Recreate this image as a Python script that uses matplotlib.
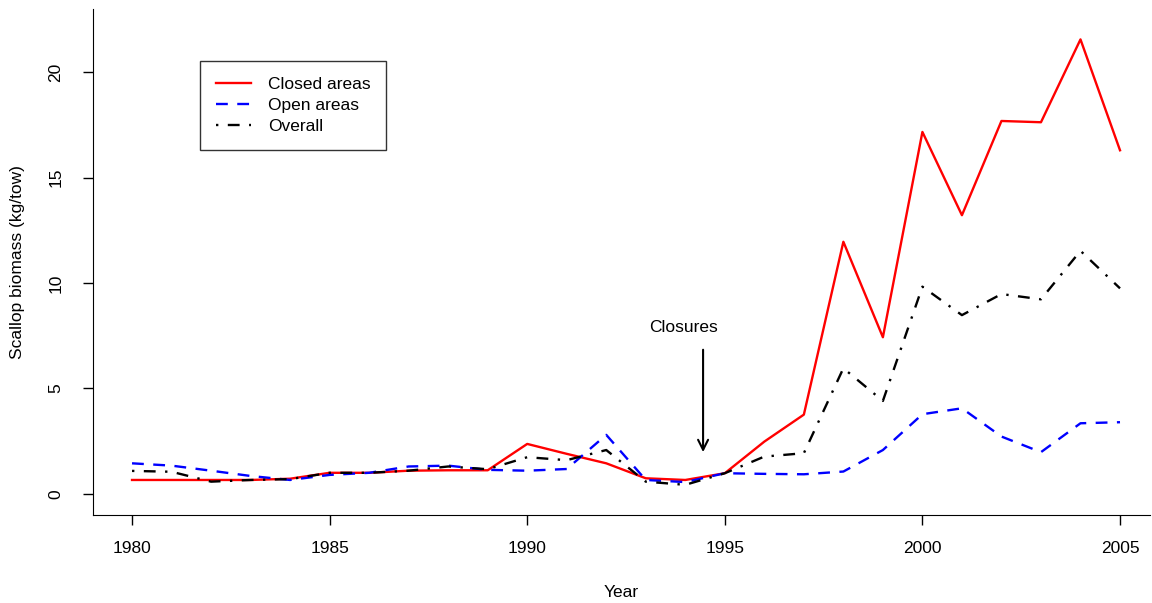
import matplotlib
matplotlib.use("Agg")
import matplotlib.pyplot as plt

years = list(range(1980, 2006))
closed_areas = [0.66, 0.66, 0.66, 0.66, 0.72, 1.0, 1.0, 1.1, 1.12, 1.12,
                2.37, 1.9, 1.45, 0.74, 0.66, 0.98, 2.48, 3.76, 11.96, 7.43,
                17.17, 13.22, 17.69, 17.63, 21.56, 16.3]
open_areas = [1.45, 1.34, 1.1, 0.85, 0.66, 0.9, 1.0, 1.3, 1.34, 1.14,
              1.1, 1.18, 2.8, 0.66, 0.56, 0.98, 0.95, 0.93, 1.06, 2.08,
              3.78, 4.06, 2.72, 1.98, 3.35, 3.4]
overall = [1.09, 1.05, 0.58, 0.66, 0.7, 1.0, 1.0, 1.1, 1.3, 1.17,
           1.74, 1.6, 2.08, 0.58, 0.43, 0.98, 1.77, 1.93, 5.96, 4.41,
           9.83, 8.48, 9.48, 9.23, 11.53, 9.75]

plt.rcParams['font.family'] = ['Liberation Sans', 'DejaVu Sans']

fig = plt.figure(figsize=(11.52, 6.03), dpi=100)
ax = fig.add_axes([0.0803, 0.146, 0.918, 0.839])

ax.plot(years, closed_areas, color='red', lw=1.7, label='Closed areas')
ax.plot(years, open_areas, color='blue', lw=1.7, dashes=(5, 4), label='Open areas')
ax.plot(years, overall, color='black', lw=1.7, dashes=(1, 4, 5, 4), label='Overall')

# closure annotation
ax.annotate('', xy=(1994.45, 1.85), xytext=(1994.45, 6.97),
            arrowprops=dict(arrowstyle='->', color='black', lw=1.5,
                            mutation_scale=18))
ax.text(1993.95, 7.9, 'Closures', ha='center', va='center', fontsize=12.5)

ax.set_xlim(1979, 2005.76)
ax.set_ylim(-1, 23)
ax.set_xticks(range(1980, 2006, 5))
ax.set_yticks(range(0, 21, 5))
ax.set_yticklabels([str(v) for v in range(0, 21, 5)], rotation=90, va='center')
ax.tick_params(labelsize=12.5, length=7, width=1)
ax.tick_params(axis='x', pad=12)
ax.tick_params(axis='y', pad=14)
ax.spines['top'].set_visible(False)
ax.spines['right'].set_visible(False)
ax.set_xlabel('Year', fontsize=12.5, va='center')
ax.set_ylabel('Scallop biomass (kg/tow)', fontsize=12.5, va='center')
ax.xaxis.set_label_coords(0.5, -0.154)
ax.yaxis.set_label_coords(-0.0705, 0.5)

leg = ax.legend(loc='upper left', bbox_to_anchor=(0.102, 0.897), fontsize=12.5,
                frameon=True, fancybox=False, edgecolor='black',
                handlelength=2.0, handletextpad=1.0, borderpad=0.9,
                labelspacing=0.35, borderaxespad=0)
leg.get_frame().set_linewidth(1)

fig.savefig('out.png', dpi=100)
